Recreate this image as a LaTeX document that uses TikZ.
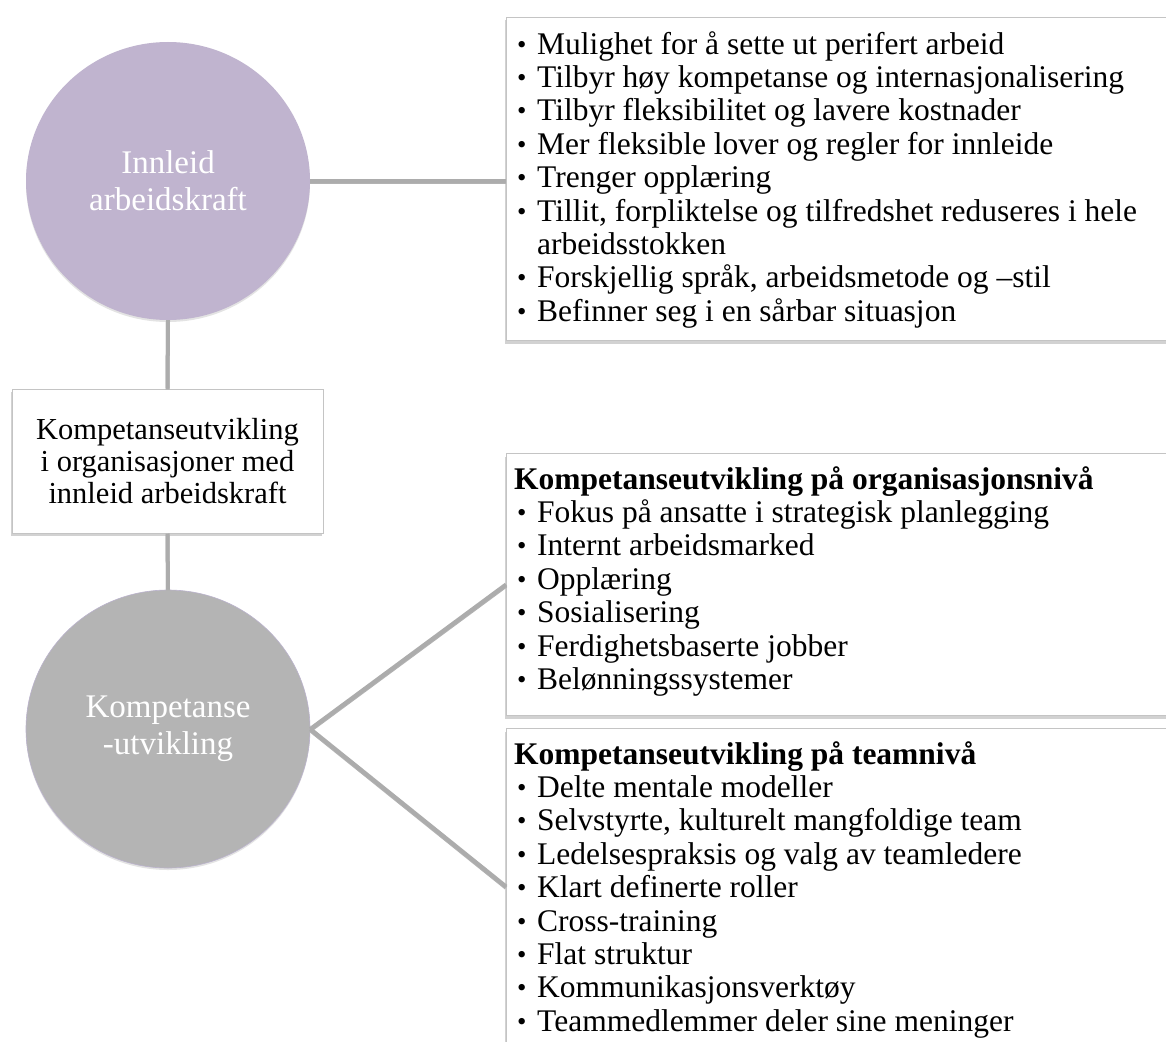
\documentclass[tikz,border=0pt]{standalone}
\usepackage{fontspec}
\setmainfont{Liberation Serif}
\usetikzlibrary{shapes.geometric,shadows}
\definecolor{lavender}{RGB}{192,180,207}
\definecolor{circgray}{RGB}{180,180,180}
\definecolor{rimgray}{RGB}{186,178,204}
\definecolor{boxline}{RGB}{196,196,196}
\definecolor{linkgray}{RGB}{172,172,172}
% bullet item and continuation line for the lists
\newcommand{\bul}[1]{\strut\hspace*{3pt}\makebox[20pt][l]{\raisebox{1pt}{\scalebox{0.85}{\textbullet}}}#1}
\newcommand{\cont}[1]{\strut\hspace*{23pt}#1}
\newcommand{\head}[1]{\strut\textbf{#1}}

\begin{document}
\begin{tikzpicture}[x=1pt,y=-1pt,
  hub/.style={ellipse, minimum width=284pt, minimum height=278pt, inner sep=0pt,
    text=white, align=center, font=\fontsize{33}{37}\selectfont,
    drop shadow={shadow xshift=0pt, shadow yshift=-2pt, opacity=0.22}},
  panel/.style={rectangle, draw=boxline, line width=1pt, fill=white, inner sep=0pt,
    drop shadow={shadow xshift=-1.5pt, shadow yshift=-3pt, opacity=0.35}},
  listtext/.style={anchor=north west, inner sep=0pt, align=left,
    font=\fontsize{31.5}{33.4}\selectfont},
  link/.style={draw=linkgray, line width=4pt},
  linkshadow/.style={draw=black!30, line width=4pt, transform canvas={yshift=-1.2pt}}]

\useasboundingbox (0,0) rectangle (1166,1041);
\clip (0,0) rectangle (1166,1041);
\fill[white] (0,0) rectangle (1166,1041);

% the two topic circles
\node[hub, fill=lavender] (hire) at (168,181) {Innleid\\arbeidskraft};
\node[hub, fill=circgray, draw=rimgray, line width=0.6pt] (dev) at (168,729) {Kompetanse\\-utvikling};

% central title box
\node[panel, minimum width=311pt, minimum height=144pt, align=center,
      font=\fontsize{30.5}{32}\selectfont] (core) at (167.5,461)
  {Kompetanseutvikling\\i organisasjoner med\\innleid arbeidskraft};

% list panels on the right
\node[panel, minimum width=700pt, minimum height=323pt, anchor=north west] (pros) at (506,17) {};
\node[panel, minimum width=700pt, minimum height=262pt, anchor=north west] (org) at (506,453) {};
\node[panel, minimum width=700pt, minimum height=316pt, anchor=north west] (team) at (506,728) {};

\node[listtext] (prostext) at (514,30.6) {%
  \bul{Mulighet for å sette ut perifert arbeid}\\
  \bul{Tilbyr høy kompetanse og internasjonalisering}\\
  \bul{Tilbyr fleksibilitet og lavere kostnader}\\
  \bul{Mer fleksible lover og regler for innleide}\\
  \bul{Trenger opplæring}\\
  \bul{Tillit, forpliktelse og tilfredshet reduseres i hele}\\
  \cont{arbeidsstokken}\\
  \bul{Forskjellig språk, arbeidsmetode og –stil}\\
  \bul{Befinner seg i en sårbar situasjon}};

\node[listtext] (orgtext) at (514,465.6) {%
  \head{Kompetanseutvikling på organisasjonsnivå}\\
  \bul{Fokus på ansatte i strategisk planlegging}\\
  \bul{Internt arbeidsmarked}\\
  \bul{Opplæring}\\
  \bul{Sosialisering}\\
  \bul{Ferdighetsbaserte jobber}\\
  \bul{Belønningssystemer}};

\node[listtext] (teamtext) at (514,740.6) {%
  \head{Kompetanseutvikling på teamnivå}\\
  \bul{Delte mentale modeller}\\
  \bul{Selvstyrte, kulturelt mangfoldige team}\\
  \bul{Ledelsespraksis og valg av teamledere}\\
  \bul{Klart definerte roller}\\
  \bul{Cross-training}\\
  \bul{Flat struktur}\\
  \bul{Kommunikasjonsverktøy}\\
  \bul{Teammedlemmer deler sine meninger}};

% connectors
\foreach \s/\t in {hire.east/hire.east -| pros.west, hire.south/core.north,
                   core.south/dev.north, dev.east/org.west, dev.east/team.west} {
  \draw[linkshadow] (\s) -- (\t);
  \draw[link] (\s) -- (\t);
}
\end{tikzpicture}
\end{document}
